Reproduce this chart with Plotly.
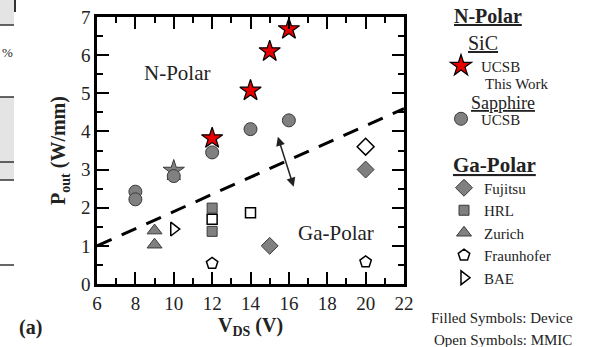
import plotly.graph_objects as go

# ---------------- data ----------------
# N-Polar on SiC (UCSB, this work)
sic_v = [12, 14, 15, 16]
sic_p = [3.82, 5.07, 6.10, 6.68]
# earlier SiC point drawn grey
sic_old_v = [10]
sic_old_p = [2.97]
# N-Polar on Sapphire (UCSB)
sap_v = [8, 8, 10, 12, 14, 16]
sap_p = [2.42, 2.22, 2.83, 3.45, 4.06, 4.29]
# Ga-Polar
fuj_dev_v, fuj_dev_p = [15, 20], [1.00, 3.00]
fuj_mmic_v, fuj_mmic_p = [20], [3.60]
hrl_dev_v, hrl_dev_p = [12, 12], [1.99, 1.38]
hrl_mmic_v, hrl_mmic_p = [12, 14], [1.70, 1.87]
zur_dev_v, zur_dev_p = [9, 9], [1.40, 1.03]
fra_mmic_v, fra_mmic_p = [12, 20], [0.54, 0.58]
bae_mmic_v, bae_mmic_p = [10], [1.44]
# dashed boundary between N-polar and Ga-polar results
bound_v = [6, 22]
bound_p = [1.00, 4.60]

# ---------------- layout helpers ----------------
W, H = 602, 347
L, R, T, B = 97, 404, 17, 284
FONT = "Liberation Serif, Times New Roman, serif"
GREY = "#808080"
EDGE = "#3a3a3a"


def px(x):
    return (x - L) / (R - L)


def py(y):
    return (B - y) / (B - T)


fig = go.Figure()

fig.add_trace(go.Scatter(x=bound_v, y=bound_p, mode="lines",
                         line=dict(color="black", width=3, dash="16px,11px"),
                         showlegend=False, hoverinfo="skip"))

fig.add_trace(go.Scatter(x=sic_old_v, y=sic_old_p, mode="markers",
                         marker=dict(symbol="star", size=16, color=GREY,
                                     line=dict(color=EDGE, width=1)),
                         showlegend=False))

fig.add_trace(go.Scatter(x=sap_v, y=sap_p, mode="markers", name="UCSB",
                         marker=dict(symbol="circle", size=13, color=GREY,
                                     line=dict(color=EDGE, width=1)),
                         legend="legend2"))

fig.add_trace(go.Scatter(x=sic_v, y=sic_p, mode="markers", name="UCSB",
                         marker=dict(symbol="star", size=16, color="#e60000",
                                     line=dict(color="black", width=1.2)),
                         legend="legend"))

fig.add_trace(go.Scatter(x=fuj_dev_v, y=fuj_dev_p, mode="markers", name="Fujitsu",
                         marker=dict(symbol="diamond", size=13, color=GREY,
                                     line=dict(color=EDGE, width=1)),
                         legend="legend3"))
fig.add_trace(go.Scatter(x=fuj_mmic_v, y=fuj_mmic_p, mode="markers", name="Fujitsu",
                         marker=dict(symbol="diamond", size=13, color="white",
                                     line=dict(color="black", width=1.5)),
                         showlegend=False, legend="legend3"))
fig.add_trace(go.Scatter(x=hrl_dev_v, y=hrl_dev_p, mode="markers", name="HRL",
                         marker=dict(symbol="square", size=10, color=GREY,
                                     line=dict(color=EDGE, width=1)),
                         legend="legend3"))
fig.add_trace(go.Scatter(x=hrl_mmic_v, y=hrl_mmic_p, mode="markers", name="HRL",
                         marker=dict(symbol="square", size=10, color="white",
                                     line=dict(color="black", width=1.5)),
                         showlegend=False, legend="legend3"))
fig.add_trace(go.Scatter(x=zur_dev_v, y=zur_dev_p, mode="markers", name="Zurich",
                         marker=dict(symbol="triangle-up", size=13, color=GREY,
                                     line=dict(color=EDGE, width=1)),
                         legend="legend3"))
fig.add_trace(go.Scatter(x=fra_mmic_v, y=fra_mmic_p, mode="markers", name="Fraunhofer",
                         marker=dict(symbol="pentagon", size=12, color="white",
                                     line=dict(color="black", width=1.5)),
                         legend="legend3"))
fig.add_trace(go.Scatter(x=bae_mmic_v, y=bae_mmic_p, mode="markers", name="BAE",
                         marker=dict(symbol="triangle-right", size=12, color="white",
                                     line=dict(color="black", width=1.5)),
                         legend="legend3"))

axis_common = dict(
    showline=True, linecolor="black", linewidth=2.5, mirror="allticks",
    ticks="inside", ticklen=12, tickwidth=2, tickcolor="black",
    showgrid=False, zeroline=False, automargin=False,
    tickfont=dict(family=FONT, size=19, color="#222"),
)

fig.update_xaxes(range=[6, 22], dtick=2, tick0=6,
                 minor=dict(ticks="inside", ticklen=6, tickwidth=2, dtick=1,
                            tickcolor="black", showgrid=False),
                 title=dict(text="<b>V<sub>DS</sub> (V)</b>",
                            font=dict(family=FONT, size=20, color="#222"),
                            standoff=6),
                 **axis_common)
fig.update_yaxes(range=[0, 7], dtick=1, tick0=0,
                 minor=dict(ticks="inside", ticklen=6, tickwidth=2, dtick=0.5,
                            tickcolor="black", showgrid=False),
                 title=dict(text="<b>P<sub>out</sub> (W/mm)</b>",
                            font=dict(family=FONT, size=20, color="#222"),
                            standoff=10),
                 **axis_common)

leg_font = dict(family=FONT, size=15, color="#222")
leg_common = dict(font=leg_font, bgcolor="rgba(0,0,0,0)", borderwidth=0,
                  xref="container", yref="container", xanchor="left",
                  yanchor="middle", itemsizing="trace", traceorder="normal")

fig.update_layout(
    width=W, height=H,
    margin=dict(l=L, r=W - R, t=T, b=H - B, pad=0, autoexpand=False),
    paper_bgcolor="white", plot_bgcolor="white",
    showlegend=True,
    legend=dict(x=441 / W, y=1 - 66 / H, **leg_common),
    legend2=dict(x=441 / W, y=1 - 119 / H, **leg_common),
    legend3=dict(x=444 / W, y=1 - 233 / H, **leg_common),
)


def note(xp, yp, text, size, xanchor="center"):
    return dict(x=px(xp), y=py(yp), xref="paper", yref="paper", text=text,
                xanchor=xanchor, yanchor="middle", showarrow=False,
                font=dict(family=FONT, size=size, color="#222"))


annos = [
    dict(x=10.2, y=5.54, xref="x", yref="y", text="N-Polar",
         font=dict(family=FONT, size=21, color="#222"), showarrow=False),
    dict(x=18.43, y=1.33, xref="x", yref="y", text="Ga-Polar",
         font=dict(family=FONT, size=21, color="#222"), showarrow=False),
    note(488, 16, "<b><u>N-Polar</u></b>", 20),
    note(483, 43, "<u>SiC</u>", 20),
    note(483, 83.5, "This Work", 15, xanchor="left"),
    note(503, 102.5, "<u>Sapphire</u>", 18),
    note(494, 165, "<b><u>Ga-Polar</u></b>", 21),
    note(502, 318, "Filled Symbols: Device", 15),
    note(503, 340, "Open Symbols: MMIC", 15),
    note(30, 327, "<b>(a)</b>", 20),
    # double-headed arrow across the boundary
    dict(x=16.25, y=2.55, ax=15.4, ay=3.9, xref="x", yref="y", axref="x", ayref="y",
         text="", showarrow=True, arrowhead=2, startarrowhead=2, arrowside="end+start",
         arrowsize=1.2, startarrowsize=1.2, arrowwidth=1.5, arrowcolor="#222"),
    # fragment of neighbouring table at left edge
    note(0, 52, "%", 13, xanchor="left"),
]
fig.update_layout(annotations=annos)

shapes = [
    dict(type="rect", xref="paper", yref="paper", x0=px(0), x1=px(14), y0=py(0), y1=py(25),
         fillcolor="#e4e4e4", line=dict(width=0), layer="below"),
    dict(type="rect", xref="paper", yref="paper", x0=px(0), x1=px(14), y0=py(97), y1=py(180),
         fillcolor="#e4e4e4", line=dict(width=0), layer="below"),
]
for yy in [25, 97, 162, 180, 265]:
    shapes.append(dict(type="line", xref="paper", yref="paper", x0=px(0), x1=px(14),
                       y0=py(yy), y1=py(yy), line=dict(color="#333", width=1.5)))
shapes.append(dict(type="line", xref="paper", yref="paper", x0=px(15), x1=px(15),
                   y0=py(0), y1=py(12), line=dict(color="#333", width=2)))
fig.update_layout(shapes=shapes)

fig.write_html("out.html", post_script="document.body.style.margin='0';",
               config={"displayModeBar": False})
